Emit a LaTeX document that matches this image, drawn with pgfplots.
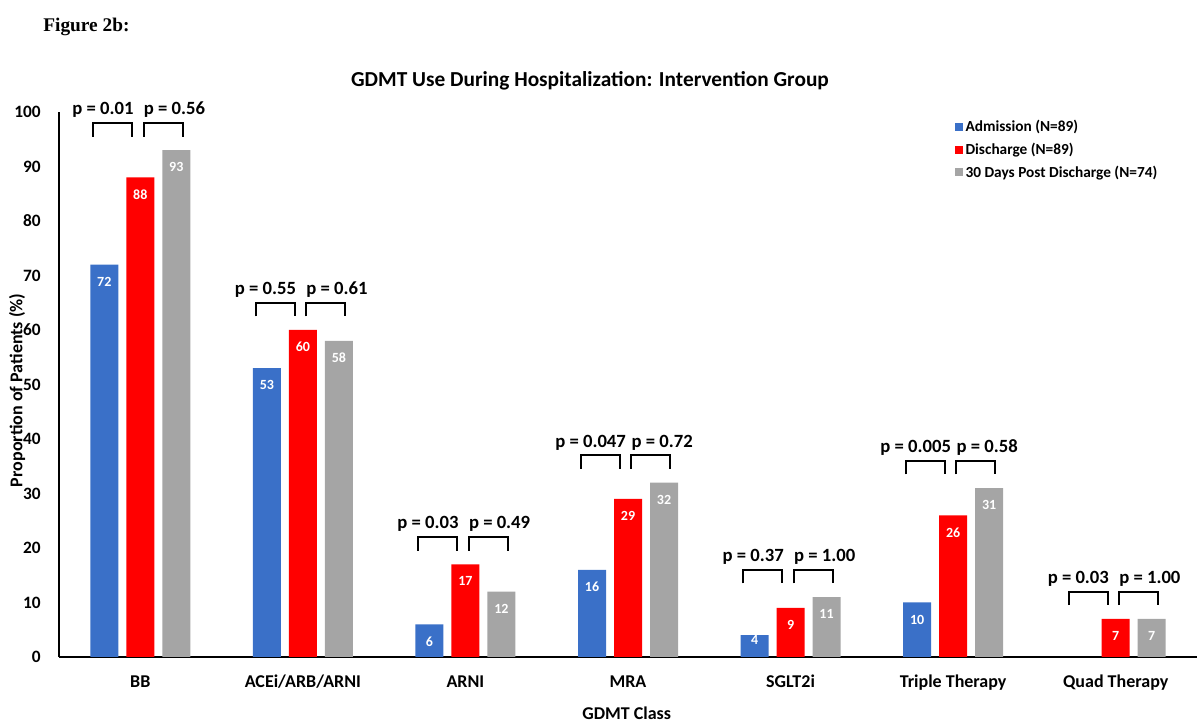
\documentclass[border=0pt]{standalone}
\usepackage{pgfplots}
\pgfplotsset{compat=1.18}
\usepackage{fontspec}
\setmainfont{Carlito}
\newfontfamily\timesfont{Liberation Serif}
\newcommand\fs[1]{\fontsize{#1}{#1}\selectfont}

\definecolor{adm}{RGB}{58,112,200}
\definecolor{dis}{RGB}{255,0,0}
\definecolor{post}{RGB}{165,165,165}

% p-value bracket pair: category, tallest bar, left p, right p
\newcommand\pbr[4]{%
  \draw[line width=1.5pt] (axis cs:#1-0.29,#2+2.5) -- (axis cs:#1-0.29,#2+5) -- (axis cs:#1-0.05,#2+5) -- (axis cs:#1-0.05,#2+2.5);
  \draw[line width=1.5pt] (axis cs:#1+0.02,#2+2.5) -- (axis cs:#1+0.02,#2+5) -- (axis cs:#1+0.26,#2+5) -- (axis cs:#1+0.26,#2+2.5);
  \node[anchor=base, inner sep=0pt, font=\bfseries\fs{14}] at (axis cs:#1-0.23,#2+6.5) {p = #3};
  \node[anchor=base, inner sep=0pt, font=\bfseries\fs{14}] at (axis cs:#1+0.21,#2+6.5) {p = #4};
}

\begin{document}
\begin{tikzpicture}
\path[use as bounding box] (0,0) rectangle (900pt,543.75pt);
\begin{axis}[
  at={(44.25pt,51pt)}, anchor=south west,
  scale only axis, width=853.5pt, height=408.75pt,
  xmin=-0.5, xmax=6.5, ymin=0, ymax=100,
  axis x line*=bottom, axis y line*=left,
  axis line style={line width=1.2pt, -},
  major tick length=0pt,
  ytick={0,10,...,100},
  xtick={0,...,6},
  xticklabels={BB, ACEi/ARB/ARNI, ARNI, MRA, SGLT2i, Triple Therapy, Quad Therapy},
  /pgf/number format/assume math mode=true,
  yticklabel style={font=\bfseries\fs{13}, anchor=east, inner sep=0pt, xshift=-13.5pt},
  xticklabel style={font=\bfseries\fs{13.5}, anchor=base, inner sep=0pt, yshift=-23.25pt},
  ybar=6pt, bar width=21pt,
  every axis plot/.append style={draw=none},
  nodes near coords,
  visualization depends on={rawy \as \rawy},
  every node near coord/.append style={font=\bfseries\fs{10.5}, text=white, anchor=center, inner sep=0pt, yshift={(\rawy<5)*9-12.75}},
  legend style={at={(0.787,0.99)}, anchor=north west, draw=none, fill=none,
    font=\bfseries\fs{11.5}, row sep=3pt, inner sep=0pt},
  legend cell align=left,
  clip=false,
]
\addplot[fill=adm, legend image code/.code={\fill[adm] (0pt,-3pt) rectangle (6pt,3pt);}]
  coordinates {(0,72) (1,53) (2,6) (3,16) (4,4) (5,10)};
\addplot[fill=dis, legend image code/.code={\fill[dis] (0pt,-3pt) rectangle (6pt,3pt);}]
  coordinates {(0,88) (1,60) (2,17) (3,29) (4,9) (5,26) (6,7)};
\addplot[fill=post, legend image code/.code={\fill[post] (0pt,-3pt) rectangle (6pt,3pt);}]
  coordinates {(0,93) (1,58) (2,12) (3,32) (4,11) (5,31) (6,7)};
\legend{Admission (N=89), Discharge (N=89), 30 Days Post Discharge (N=74)}

\pbr{0}{93}{0.01}{0.56}
\pbr{1}{60}{0.55}{0.61}
\pbr{2}{17}{0.03}{0.49}
\pbr{3}{32}{0.047}{0.72}
\pbr{4}{11}{0.37}{1.00}
\pbr{5}{31}{0.005}{0.58}
\pbr{6}{7}{0.03}{1.00}
\end{axis}
\node[anchor=west, font=\timesfont\bfseries\fs{14.5}] at (29pt,523.5pt) {Figure 2b:};
\node[font=\bfseries\fs{16}] at (442.5pt,483pt) {GDMT Use During Hospitalization: Intervention Group};
\node[font=\bfseries\fs{13.5}] at (470pt,9pt) {GDMT Class};
\node[rotate=90, font=\bfseries\fs{13.5}] at (12.75pt,251pt) {Proportion of Patients (\%)};
\end{tikzpicture}
\end{document}
